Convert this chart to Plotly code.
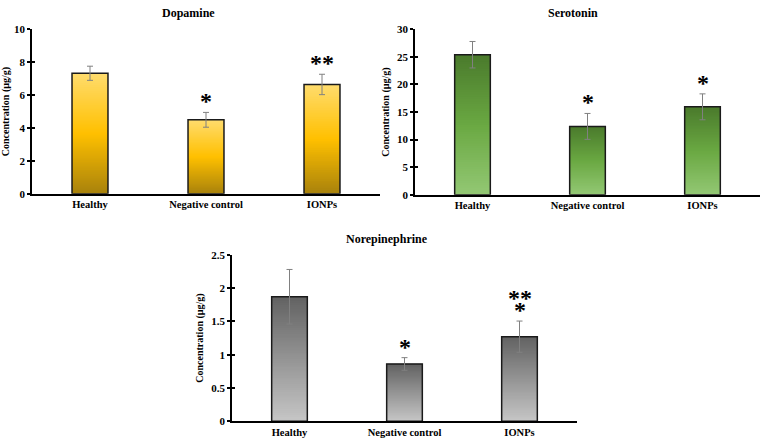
import plotly.graph_objects as go

categories = ["Healthy", "Negative control", "IONPs"]

dopamine_values = [7.33, 4.50, 6.65]
dopamine_errors = [0.43, 0.45, 0.62]
dopamine_marks = [[], ["*"], ["**"]]

serotonin_values = [25.4, 12.4, 15.95]
serotonin_errors = [2.4, 2.35, 2.35]
serotonin_marks = [[], ["*"], ["*"]]

norepinephrine_values = [1.87, 0.86, 1.27]
norepinephrine_errors = [0.41, 0.095, 0.235]
norepinephrine_marks = [[], ["*"], ["*", "**"]]  # bottom to top

FONT = "Liberation Serif"
N_SEG = 60


def hex_to_rgb(h):
    h = h.lstrip("#")
    return tuple(int(h[i:i + 2], 16) for i in (0, 2, 4))


def interp(stops, t):
    for (t0, c0), (t1, c1) in zip(stops[:-1], stops[1:]):
        if t0 <= t <= t1:
            f = 0 if t1 == t0 else (t - t0) / (t1 - t0)
            a, b = hex_to_rgb(c0), hex_to_rgb(c1)
            return "rgb(%d,%d,%d)" % tuple(round(a[k] + (b[k] - a[k]) * f) for k in range(3))
    return stops[-1][1]


panels = [
    dict(name="Dopamine", vals=dopamine_values, errs=dopamine_errors, marks=dopamine_marks,
         stops=[(0, "#A8820C"), (0.5, "#FFC000"), (1, "#FFDC6E")],
         xd=[32 / 767, 380 / 767], yd=[1 - 193 / 446, 1 - 24 / 446], yr=[0, 10], dt=2,
         title_xy=(188, 7)),
    dict(name="Serotonin", vals=serotonin_values, errs=serotonin_errors, marks=serotonin_marks,
         stops=[(0, "#93C874"), (0.5, "#6AA842"), (1, "#4A7A2C")],
         xd=[415 / 767, 760 / 767], yd=[1 - 194 / 446, 1 - 24 / 446], yr=[0, 30], dt=5,
         title_xy=(573, 7)),
    dict(name="Norepinephrine", vals=norepinephrine_values, errs=norepinephrine_errors,
         marks=norepinephrine_marks,
         stops=[(0, "#C6C6C6"), (1, "#626262")],
         xd=[232 / 767, 577 / 767], yd=[1 - 426.7 / 446, 1 - 255.7 / 446], yr=[0, 2.5], dt=0.5,
         title_xy=(387, 239)),
]

fig = go.Figure()
annotations = []
layout = {}
BW = 0.31

for p_i, p in enumerate(panels):
    sfx = "" if p_i == 0 else str(p_i + 1)
    osfx = str(p_i + 4)
    xa, ya, yo = "x" + sfx, "y" + sfx, "y" + osfx
    vals = p["vals"]
    for i in range(N_SEG):
        t = i / N_SEG
        fig.add_trace(go.Bar(
            x=categories, y=[v * (1 - t) for v in vals], base=[v * t for v in vals],
            width=BW, marker=dict(color=interp(p["stops"], t + 0.5 / N_SEG), line=dict(width=0)),
            xaxis=xa, yaxis=ya, showlegend=False, hoverinfo="skip"))
    fig.add_trace(go.Bar(
        x=categories, y=vals, width=BW,
        marker=dict(color="rgba(0,0,0,0)", line=dict(color="#1a1a1a", width=1.5)),
        error_y=dict(type="data", array=p["errs"], color="#808080", thickness=1, width=3),
        xaxis=xa, yaxis=ya, showlegend=False))
    # invisible trace to carry the inner half of the crossing tick marks
    fig.add_trace(go.Scatter(x=categories, y=[None] * 3, xaxis=xa, yaxis=yo,
                             showlegend=False, hoverinfo="skip"))
    layout["xaxis" + sfx] = dict(
        domain=p["xd"], anchor=ya, type="category", range=[-0.5, 2.5],
        showline=True, linecolor="black", linewidth=1.5, ticks="",
        tickfont=dict(family=FONT, size=10.5, color="black", weight="bold"),
        showgrid=False, zeroline=False, fixedrange=True)
    layout["yaxis" + sfx] = dict(
        domain=p["yd"], anchor=xa, range=p["yr"], dtick=p["dt"], tick0=0,
        showline=True, linecolor="black", linewidth=1.5, ticks="outside", ticklen=3,
        tickcolor="black", tickwidth=1.5,
        tickfont=dict(family=FONT, size=11, color="black", weight="bold"),
        title=dict(text="Concentration (µg/g)", standoff=6,
                   font=dict(family=FONT, size=10, color="black", weight="bold")),
        showgrid=False, zeroline=False, fixedrange=True)
    layout["yaxis" + osfx] = dict(
        overlaying=ya, anchor=xa, side="left", range=p["yr"], dtick=p["dt"], tick0=0,
        showline=False, ticks="inside", ticklen=3, tickcolor="black", tickwidth=1.5,
        showticklabels=False, showgrid=False, zeroline=False, fixedrange=True)
    tx, ty = p["title_xy"]
    annotations.append(dict(
        text="<b>%s</b>" % p["name"], x=tx / 767, y=1 - ty / 446, xref="paper", yref="paper",
        xanchor="center", yanchor="middle", showarrow=False,
        font=dict(family=FONT, size=12, color="black")))
    for c, v, e, ms in zip(categories, vals, p["errs"], p["marks"]):
        for k, m in enumerate(ms):
            annotations.append(dict(
                text=m, x=c, y=v + e, xref=xa, yref=ya, xanchor="center", yanchor="bottom",
                yshift=-4 + 12 * k, showarrow=False,
                font=dict(family=FONT, size=24, color="black", weight="bold")))

fig.update_layout(
    width=767, height=446, margin=dict(l=0, r=0, t=0, b=0),
    paper_bgcolor="white", plot_bgcolor="white", barmode="overlay",
    annotations=annotations, **layout)

fig.write_html("out.html")
